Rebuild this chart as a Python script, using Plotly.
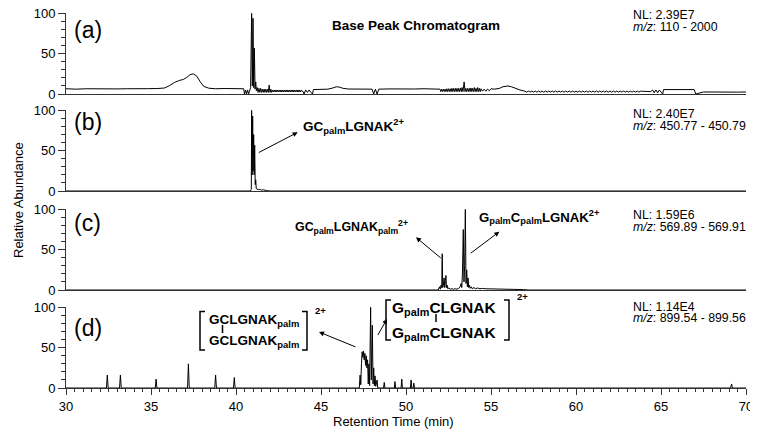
import plotly.graph_objects as go

# ---------------- data: (retention time [min], relative abundance [%]) ----------------
bpc_points = [  # (a) base peak chromatogram
    (30.0, 6.5), (30.6, 6.0), (31.2, 6.5), (31.8, 6.2), (32.4, 6.6), (33.0, 6.3),
    (33.6, 6.5), (34.2, 6.2), (34.8, 6.6), (35.4, 6.8), (35.8, 7.5), (36.1, 10.5),
    (36.4, 14.5), (36.7, 17.0), (36.9, 18.0), (37.1, 20.5), (37.3, 24.0), (37.5, 25.0),
    (37.7, 22.0), (37.9, 15.0), (38.1, 9.5), (38.4, 7.2), (38.8, 6.5), (39.3, 6.8),
    (39.8, 6.3), (40.2, 6.8), (40.45, 6.5),
    (40.5, 0.0), (40.56, 5.0), (40.62, 0.0), (40.68, 5.0), (40.74, 0.0), (40.8, 6.0),
    (40.86, 8.0), (40.92, 100.0), (40.96, 10.0), (41.0, 94.0), (41.04, 8.0), (41.08, 57.0),
    (41.12, 6.0), (41.16, 15.0), (41.2, 4.0),
    (41.25, 8), (41.3, 2), (41.35, 7), (41.4, 2), (41.45, 7), (41.5, 2), (41.55, 6), (41.6, 2),
    (41.65, 6), (41.7, 2), (41.75, 6), (41.8, 2), (41.85, 6), (41.9, 2), (41.95, 11), (42.0, 2),
    (42.05, 6), (42.1, 2),
    (42.15, 5), (42.2, 2.5), (42.25, 5), (42.3, 2.5), (42.35, 5), (42.4, 2.5), (42.45, 5),
    (42.5, 2.5), (42.55, 5), (42.6, 2.5), (42.65, 5), (42.7, 2.5), (42.75, 5), (42.8, 2.5),
    (42.85, 5), (42.9, 2.5), (42.95, 5), (43.0, 2.5), (43.05, 5), (43.1, 2.5), (43.15, 5),
    (43.2, 2.5), (43.25, 5), (43.3, 2.5), (43.35, 5), (43.4, 2.5), (43.45, 5), (43.5, 2.5),
    (43.55, 5), (43.6, 2.5), (43.65, 5), (43.7, 2.5), (43.75, 5), (43.8, 2.5), (43.85, 4.5),
    (43.95, 3), (44.0, 0), (44.1, 5), (44.2, 2), (44.3, 5), (44.4, 2), (44.5, 0), (44.55, 5.5),
    (45.0, 5.5), (45.4, 6.0), (45.7, 7.5), (45.9, 9.0), (46.1, 8.5), (46.3, 7.0), (46.6, 6.2),
    (47.0, 6.0), (47.5, 6.3), (48.0, 6.0), (48.1, 0.0), (48.2, 6.0), (48.3, 0.0), (48.4, 6.0),
    (49.0, 6.3), (49.5, 6.0), (50.0, 6.4), (50.5, 6.2), (51.0, 6.5), (51.5, 6.3), (51.9, 6.5),
    (52.0, 6), (52.05, 3), (52.1, 6), (52.15, 3), (52.2, 6), (52.25, 3), (52.3, 6), (52.35, 3),
    (52.4, 6.5), (52.45, 3), (52.5, 6.5), (52.55, 3), (52.6, 6.5), (52.65, 3), (52.7, 7),
    (52.75, 3), (52.8, 7), (52.85, 3), (52.9, 7), (52.95, 3), (53.0, 7), (53.05, 3), (53.1, 7),
    (53.15, 3), (53.2, 7.5), (53.25, 3), (53.3, 8), (53.35, 3), (53.42, 15), (53.47, 3),
    (53.52, 7), (53.57, 3), (53.62, 7), (53.67, 3), (53.72, 7), (53.77, 3), (53.82, 7.5),
    (53.87, 3), (53.92, 7), (53.97, 3), (54.02, 8), (54.07, 3), (54.12, 7), (54.17, 3),
    (54.22, 8), (54.27, 3), (54.32, 7), (54.37, 3), (54.42, 6.5), (54.5, 3.5), (54.6, 6),
    (54.7, 3.5), (54.8, 6), (54.9, 4), (55.0, 6.5),
    (55.2, 6.0), (55.5, 7.0), (55.7, 9.0), (55.9, 10.0), (56.0, 10.0), (56.2, 9.0), (56.4, 7.0),
    (56.7, 5.0), (57.0, 3.5),
    (57.1, 2.3), (57.2, 3.7), (57.3, 2.3), (57.4, 3.7), (57.5, 2.3), (57.6, 3.7), (57.7, 2.3),
    (57.8, 3.7), (57.9, 2.3), (58.0, 3.7), (58.1, 2.3), (58.2, 3.7), (58.3, 2.3), (58.4, 3.7),
    (58.5, 2.3), (58.6, 3.7), (58.7, 2.3), (58.8, 3.7), (58.9, 2.3), (59.0, 3.7), (59.1, 2.3),
    (59.2, 3.7), (59.3, 2.3), (59.4, 3.7), (59.5, 2.3), (59.6, 3.7), (59.7, 2.3), (59.8, 3.7),
    (59.9, 2.3), (60.0, 3.7), (60.1, 2.3), (60.2, 3.7), (60.3, 2.3), (60.4, 3.7), (60.5, 2.3),
    (60.6, 3.7), (60.7, 2.3), (60.8, 3.7), (60.9, 2.3), (61.0, 3.7), (61.1, 2.3), (61.2, 3.7),
    (61.3, 2.3), (61.4, 3.7), (61.5, 2.3), (61.6, 3.7), (61.7, 2.3), (61.8, 3.7), (61.9, 2.3),
    (62.0, 3.7), (62.1, 2.3), (62.2, 3.7), (62.3, 2.3), (62.4, 3.7), (62.5, 2.3), (62.6, 3.7),
    (62.7, 2.3), (62.8, 3.7), (62.9, 2.3), (63.0, 3.7), (63.1, 2.3), (63.2, 3.7), (63.3, 2.3),
    (63.4, 3.7), (63.5, 2.3), (63.6, 3.7), (63.7, 2.3), (63.8, 3.5),
    (64.1, 3), (64.4, 3), (64.5, 5), (64.6, 1.5), (64.7, 5), (64.8, 1.5), (64.9, 5), (65.0, 2),
    (65.1, 0), (65.15, 5.5), (65.5, 5.5), (66.0, 5.8), (66.5, 5.5), (66.95, 5.5), (67.05, 0),
    (67.5, 2.5), (68.0, 2.5), (68.5, 2.2), (69.0, 2.5), (69.5, 2.3), (70.0, 2.5),
]

xic_450_points = [  # (b) m/z 450.77 - 450.79
    (30.0, 0), (40.85, 0), (40.9, 2), (40.92, 100), (40.95, 20), (40.98, 93), (41.01, 25),
    (41.04, 70), (41.07, 20), (41.1, 57), (41.13, 8), (41.16, 14), (41.19, 3), (41.23, 3),
    (41.27, 1.5), (41.31, 2.5), (41.35, 1.5), (41.4, 2), (41.5, 1), (41.6, 1.5), (41.8, 0.5),
    (42.0, 0), (70.0, 0),
]

xic_569_points = [  # (c) m/z 569.89 - 569.91
    (30.0, 0), (51.9, 0), (51.97, 4), (52.02, 1), (52.06, 6), (52.1, 3), (52.13, 45), (52.16, 3),
    (52.2, 6), (52.24, 15), (52.28, 3), (52.32, 12), (52.35, 18), (52.38, 3), (52.42, 6),
    (52.46, 1.5), (52.52, 2.5), (52.6, 1), (52.7, 1.5), (52.8, 1), (52.9, 1.5), (53.0, 1),
    (53.1, 2), (53.18, 4), (53.24, 8), (53.28, 3), (53.32, 20), (53.37, 75), (53.41, 10),
    (53.45, 30), (53.49, 100), (53.53, 8), (53.57, 25), (53.61, 4), (53.65, 15), (53.69, 3),
    (53.73, 6), (53.78, 2), (53.84, 4), (53.9, 1.5), (54.0, 3), (54.1, 1.5), (54.2, 2.5),
    (54.35, 1.5), (54.5, 2), (54.7, 1.5), (55.0, 1.5), (55.4, 1), (55.8, 1), (56.3, 0.8),
    (56.9, 0.5), (57.2, 0), (70.0, 0),
]

xic_899_points = [  # (d) m/z 899.54 - 899.56
    (30.0, 0),
    (32.38, 0), (32.43, 16), (32.48, 0),
    (33.15, 0), (33.2, 16), (33.25, 0),
    (35.25, 0), (35.3, 11), (35.35, 0),
    (37.15, 0), (37.2, 30), (37.25, 0),
    (38.75, 0), (38.8, 16), (38.85, 0),
    (39.85, 0), (39.9, 13), (39.95, 0),
    (47.25, 0), (47.3, 16), (47.34, 4), (47.38, 30), (47.42, 45), (47.46, 38), (47.5, 46),
    (47.54, 35), (47.58, 43), (47.62, 28), (47.66, 40), (47.7, 25), (47.74, 35), (47.78, 5),
    (47.82, 30), (47.86, 3), (47.92, 100), (47.96, 10), (48.02, 78), (48.06, 5), (48.1, 25),
    (48.14, 3), (48.18, 15), (48.22, 2), (48.3, 10), (48.34, 0),
    (48.68, 0), (48.72, 7), (48.76, 0),
    (49.31, 0), (49.35, 8), (49.39, 0),
    (49.71, 0), (49.75, 11), (49.79, 0),
    (50.26, 0), (50.3, 10), (50.34, 0),
    (50.42, 0), (50.46, 6), (50.5, 0),
    (69.1, 0), (69.15, 5), (69.2, 0),
    (70.0, 0),
]

panel_tags = ["(a)", "(b)", "(c)", "(d)"]
nl_values = ["2.39E7", "2.40E7", "1.59E6", "1.14E4"]
mz_ranges = ["110 - 2000", "450.77 - 450.79", "569.89 - 569.91", "899.54 - 899.56"]
x_tick_vals = [30, 35, 40, 45, 50, 55, 60, 65, 70]
y_tick_vals = [0, 50, 100]

# ---------------- geometry helpers (layout only; page pixel coordinates) ----------------
OFF = 8                      # default page margin of the html body
W, H = 758 - OFF, 433 - OFF
PL, PR, PT, PB = 66, 746, 13, 388   # plot area in page pixels
ML, MR, MT, MB = PL - OFF, W + OFF - PR, PT - OFF, H + OFF - PB
FONT = "Liberation Sans, Arial, sans-serif"
AX = "#333333"


def px(x):
    return (x - PL) / (PR - PL)


def py(y):
    return (PB - y) / (PB - PT)


panel_px = [(13, 94), (110, 191), (209, 290), (307, 388)]  # top, bottom pixel rows

fig = go.Figure()
series = [bpc_points, xic_450_points, xic_569_points, xic_899_points]
for i, pts in enumerate(series):
    suffix = "" if i == 0 else str(i + 1)
    fig.add_trace(go.Scatter(
        x=[p[0] for p in pts], y=[p[1] for p in pts], mode="lines",
        line=dict(color="black", width=1), xaxis="x" + suffix, yaxis="y" + suffix,
        hoverinfo="skip", showlegend=False))

layout = dict(
    width=W, height=H, margin=dict(l=ML, r=MR, t=MT, b=MB, autoexpand=False),
    paper_bgcolor="white", plot_bgcolor="white", template="none",
    font=dict(family=FONT, size=13, color="black"), showlegend=False,
)
for i in range(4):
    suffix = "" if i == 0 else str(i + 1)
    top, bot = panel_px[i]
    last = i == 3
    xa = dict(domain=[0, 1], range=[30, 70], anchor="y" + suffix, showline=True,
              linecolor=AX, linewidth=1, showgrid=False, zeroline=False, mirror=False,
              ticklabeloverflow="allow")
    if last:
        xa.update(ticks="outside", ticklen=6, tickcolor=AX, tickwidth=1, tickvals=x_tick_vals,
                  tickfont=dict(size=13), minor=dict(dtick=0.5, ticks="outside", ticklen=3,
                                                     tickcolor=AX, tickwidth=1))
    else:
        xa.update(ticks="", showticklabels=False, matches="x4")
    ya = dict(domain=[py(bot), py(top)], range=[0, 100.5], anchor="x" + suffix, showline=True,
              linecolor=AX, linewidth=1, showgrid=False, zeroline=False, ticks="outside",
              ticklen=7, tickcolor=AX, tickwidth=1, tickvals=y_tick_vals, tickfont=dict(size=13),
              ticklabeloverflow="allow",
              minor=dict(dtick=10, ticks="outside", ticklen=4, tickcolor=AX, tickwidth=1))
    layout["xaxis" + suffix] = xa
    layout["yaxis" + suffix] = ya

ann = []
shapes = []


def text(t, x, y, size=13, bold=False, xanchor="left", yanchor="middle", angle=0):
    ann.append(dict(text=("<b>%s</b>" % t) if bold else t, x=px(x), y=py(y), xref="paper",
                    yref="paper", xanchor=xanchor, yanchor=yanchor, showarrow=False,
                    textangle=angle, font=dict(family=FONT, size=size, color="black")))


def arrow(hx, hy, tx, ty):
    ann.append(dict(text="", x=px(hx), y=py(hy), xref="paper", yref="paper",
                    ax=tx - hx, ay=ty - hy, axref="pixel", ayref="pixel", showarrow=True,
                    arrowhead=2, arrowsize=1, arrowwidth=1, arrowcolor="black",
                    standoff=0, startstandoff=0))


def bracket(x, y0, y1, side):
    d = 5 if side == "left" else -5
    shapes.append(dict(type="path", xref="paper", yref="paper",
                       path="M %f,%f L %f,%f L %f,%f L %f,%f" % (
                           px(x + d), py(y0), px(x), py(y0), px(x), py(y1), px(x + d), py(y1)),
                       line=dict(color="black", width=1.5)))


def vbar(x, y0, y1):
    shapes.append(dict(type="line", xref="paper", yref="paper", x0=px(x), x1=px(x),
                       y0=py(y0), y1=py(y1), line=dict(color="black", width=1.5)))


# panel tags and NL / m/z labels
tag_y = [30, 122, 223, 328]
nl_y = [(15, 27), (114, 125.5), (215, 226.5), (306.5, 317.5)]
for i in range(4):
    text(panel_tags[i], 72, tag_y[i], size=23)
    text("NL: " + nl_values[i], 631, nl_y[i][0], size=12.3)
    text("<i>m/z</i>: " + mz_ranges[i], 631, nl_y[i][1], size=12.3)

text("Base Peak Chromatogram", 416, 25, size=13.5, bold=True, xanchor="center")
text("Relative Abundance", 18, 200, size=13, xanchor="center", angle=-90)
text("Retention Time (min)", 393, 421, size=13, xanchor="center")

# (b)
text("GC<sub>palm</sub>LGNAK<sup>2+</sup>", 301, 126, size=13.5, bold=True)
arrow(297.7, 132.3, 257.3, 153.3)
# (c)
text("GC<sub>palm</sub>LGNAK<sub>palm</sub><sup>2+</sup>", 293, 227, size=12.4, bold=True)
arrow(416, 237.3, 442.3, 259.3)
text("G<sub>palm</sub>C<sub>palm</sub>LGNAK<sup>2+</sup>", 477, 217, size=13.2, bold=True)
arrow(499.3, 231.7, 469.3, 254.3)
# (d) left dimer
text("GCLGNAK<sub>palm</sub>", 207, 320, size=13.5, bold=True)
text("GCLGNAK<sub>palm</sub>", 207, 341, size=13.5, bold=True)
vbar(222.5, 325, 333)
bracket(200, 311.5, 350, "left")
bracket(307, 311.5, 350, "right")
text("2+", 313, 310, size=9.5, bold=True)
arrow(319, 332, 357, 347.5)
# (d) right dimer
text("G<sub>palm</sub>CLGNAK", 390, 308, size=15.5, bold=True)
text("G<sub>palm</sub>CLGNAK", 390, 333, size=15.5, bold=True)
vbar(436, 314, 322)
bracket(386, 300, 340, "left")
bracket(509, 300, 340, "right")
text("2+", 515, 296, size=9.5, bold=True)
arrow(387, 319, 377, 336.5)

layout["annotations"] = ann
layout["shapes"] = shapes
fig.update_layout(**layout)
fig.write_html("out.html")
